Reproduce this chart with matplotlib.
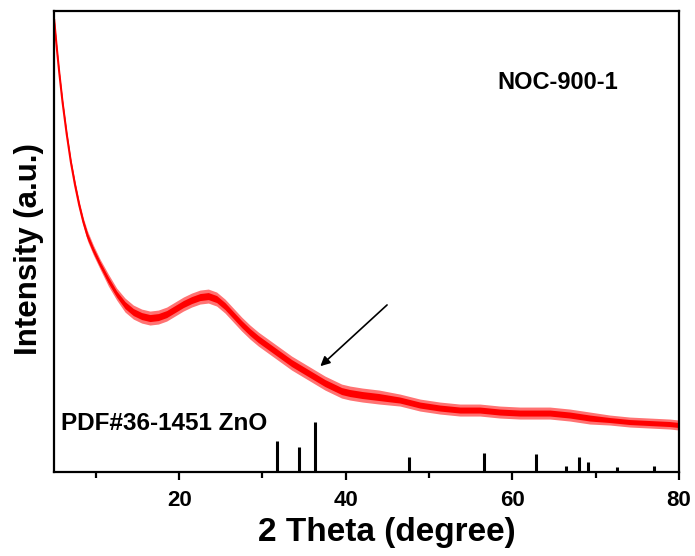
import matplotlib
matplotlib.use('Agg')
import matplotlib.pyplot as plt
from matplotlib.ticker import MultipleLocator

plt.rcParams['font.family'] = ['Liberation Sans', 'DejaVu Sans']
plt.rcParams['font.weight'] = 'bold'

# XRD pattern (2 theta, intensity a.u.)
two_theta = [5.0, 5.3, 5.6, 6.0, 6.5, 7.0, 7.5, 8.0, 8.5, 9.0, 9.7, 10.5,
             11.5, 12.5, 13.5, 14.5, 15.5, 16.5, 17.5, 18.5, 19.5, 20.5,
             21.5, 22.5, 23.5, 24.5, 25.5, 26.5, 27.5, 28.5, 29.5, 30.5,
             31.5, 32.5, 33.5, 34.5, 35.5, 36.5, 37.5, 38.5, 39.5, 40.5,
             42.0, 44.0, 46.5, 48.9, 51.3, 53.7, 56.1, 58.5, 60.9, 64.5,
             66.9, 69.3, 71.7, 74.1, 76.5, 78.9, 80.0]
intensity = [452, 425, 400, 370, 338, 310, 287, 267, 250, 236, 222, 208,
             192, 178, 167, 160, 156, 154, 155, 158, 163, 168,
             172, 175, 176, 173, 166, 157, 148, 140, 133, 127,
             121, 115, 109, 104, 99, 94, 89, 85, 81, 79,
             77, 75, 72, 67, 64, 62, 62, 60, 59, 59,
             57, 54, 52, 50, 49, 48, 47]
# half width of the noise band
noise = [2, 2, 2, 3, 3, 3, 4, 4, 4, 5, 5, 5,
         6, 6, 7, 7, 7, 7, 7, 7, 7, 7,
         7, 7, 7, 7, 7, 7, 7, 7, 7, 7,
         7, 7, 7, 7, 7, 7, 7, 7, 7, 7,
         7, 7, 6, 6, 6, 6, 6, 6, 6, 6,
         6, 6, 5, 5, 5, 5, 5]

# PDF#36-1451 ZnO reference lines
pdf_pos = [31.77, 34.42, 36.25, 47.54, 56.60, 62.86, 66.38, 67.96, 69.10, 72.56, 76.95]
pdf_int = [31, 25, 50, 15, 19, 18, 6, 15, 10, 5, 6]

fig = plt.figure(figsize=(6.95, 5.56), dpi=100)
ax = fig.add_axes([0.078, 0.151, 0.899, 0.829])

lower = [i - n for i, n in zip(intensity, noise)]
upper = [i + n for i, n in zip(intensity, noise)]
inner_lo = [i - 0.5 * n for i, n in zip(intensity, noise)]
inner_hi = [i + 0.5 * n for i, n in zip(intensity, noise)]
ax.fill_between(two_theta, lower, upper, color='#ff0000', alpha=0.55, linewidth=0)
ax.fill_between(two_theta, inner_lo, inner_hi, color='#ff0000', linewidth=0)
ax.plot(two_theta, intensity, color='#ff0000', lw=1.5)

ax.vlines(pdf_pos, 0, pdf_int, colors='black', lw=2.2)

ax.annotate('', xy=(36.7, 104), xytext=(45.2, 169),
            arrowprops=dict(arrowstyle='-|>', color='black', lw=1.2,
                            mutation_scale=14))

ax.text(65.5, 390, 'NOC-900-1', fontsize=17, fontweight='bold',
        ha='center', va='center')
ax.text(5.85, 49, 'PDF#36-1451 ZnO', fontsize=17.5, fontweight='bold',
        ha='left', va='center')

ax.set_xlim(5, 80)
ax.set_ylim(0, 461)
ax.xaxis.set_major_locator(MultipleLocator(20))
ax.xaxis.set_minor_locator(MultipleLocator(10))
ax.set_yticks([])
ax.tick_params(axis='x', which='major', length=6, width=1.6, labelsize=16, pad=7)
ax.tick_params(axis='x', which='minor', length=4, width=1.6)
for lab in ax.get_xticklabels():
    lab.set_fontweight('bold')
for s in ax.spines.values():
    s.set_linewidth(1.6)

ax.set_xlabel('2 Theta (degree)', fontsize=24, fontweight='bold')
ax.set_ylabel('Intensity (a.u.)', fontsize=22.5, fontweight='bold')
ax.xaxis.set_label_coords(0.533, -0.098)
ax.yaxis.set_label_coords(-0.016, 0.484)

fig.savefig('out.png', dpi=100)
